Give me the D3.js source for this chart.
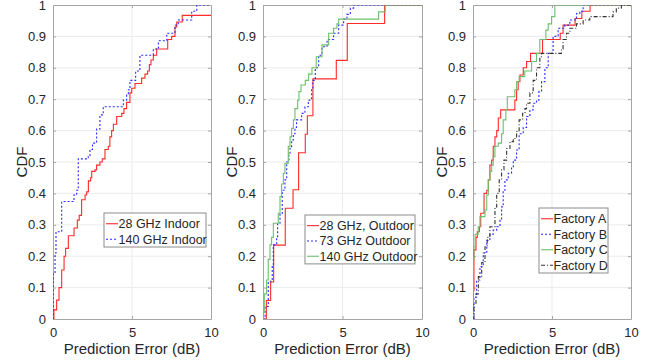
<!DOCTYPE html>
<html>
<head>
<meta charset="utf-8">
<script src="https://cdn.jsdelivr.net/npm/d3@7"></script>
<style>
  body { margin: 0; background: #fff; }
  svg text { font-family: "Liberation Sans", Arial, sans-serif; fill: #262626; }
</style>
</head>
<body>
<div id="chart"></div>
<script>
// ---- data ----
const xTicks = [0, 5, 10];
const yTicks = [0, 0.1, 0.2, 0.3, 0.4, 0.5, 0.6, 0.7, 0.8, 0.9, 1];

// panel 1
const indoor28Err = [0, 0.06, 0.23, 0.38, 0.55, 0.70, 0.80, 0.97, 1.33, 1.54, 1.66, 1.81, 2.03, 2.13, 2.24, 2.38, 2.45, 2.66, 2.76, 2.97, 3.12, 3.29, 3.5, 3.6, 3.71, 3.82, 4.03, 4.35, 4.49, 4.66, 4.87, 4.98, 5.19, 5.61, 5.82, 5.99, 6.1, 6.2, 6.35, 6.56, 7.26, 7.51, 7.72, 7.83, 8.18];
const indoor28Cdf = [0, 0.029, 0.06, 0.10, 0.156, 0.20, 0.225, 0.265, 0.29, 0.315, 0.33, 0.38, 0.395, 0.405, 0.44, 0.45, 0.47, 0.475, 0.49, 0.50, 0.51, 0.54, 0.55, 0.58, 0.60, 0.62, 0.645, 0.655, 0.67, 0.69, 0.72, 0.735, 0.75, 0.767, 0.78, 0.79, 0.81, 0.825, 0.84, 0.86, 0.89, 0.90, 0.93, 0.946, 0.967];
const indoor140Err = [0, 0.02, 0.13, 0.19, 0.55, 1.33, 1.5, 1.6, 2.23, 2.34, 2.5, 2.76, 2.97, 3.18, 4.45, 4.66, 4.77, 4.87, 5.23, 5.5, 6.35, 6.67, 7.2, 7.72, 7.93, 8.78, 9.1];
const indoor140Cdf = [0, 0.146, 0.21, 0.278, 0.374, 0.395, 0.41, 0.51, 0.52, 0.54, 0.56, 0.605, 0.65, 0.676, 0.697, 0.713, 0.73, 0.76, 0.79, 0.84, 0.86, 0.886, 0.91, 0.936, 0.952, 0.98, 1];

// panel 2
const outdoor28Err = [0, 0.21, 0.48, 0.67, 1.40, 1.89, 2.24, 2.66, 2.79, 3.14, 4.61, 5.3, 7.65];
const outdoor28Cdf = [0, 0.0588, 0.1176, 0.2353, 0.3529, 0.4118, 0.5294, 0.5882, 0.6471, 0.7647, 0.8235, 0.9412, 1];
const outdoor73Err = [0.02, 0.13, 0.33, 0.58, 0.65, 0.86, 0.92, 1.07, 1.21, 1.38, 1.49, 1.63, 1.70, 1.80, 1.91, 2.01, 2.11, 2.43, 2.64, 2.85, 3.06, 3.14, 3.29, 3.5, 3.71, 4.03, 4.44, 4.76, 5.07, 5.28, 5.49, 5.7];
const outdoor73Cdf = [0, 0.04, 0.12, 0.167, 0.236, 0.262, 0.305, 0.336, 0.41, 0.443, 0.50, 0.522, 0.549, 0.57, 0.59, 0.61, 0.634, 0.655, 0.676, 0.697, 0.73, 0.76, 0.80, 0.84, 0.867, 0.89, 0.91, 0.936, 0.955, 0.97, 0.99, 1];
const outdoor140Err = [0, 0.02, 0.08, 0.23, 0.33, 0.44, 0.54, 0.65, 0.96, 1.07, 1.17, 1.28, 1.38, 1.59, 1.70, 1.80, 1.91, 2.01, 2.18, 2.26, 2.39, 2.66, 2.87, 3.08, 3.35, 3.71, 4.13, 4.44, 4.65, 4.76, 7.27, 7.69];
const outdoor140Cdf = [0, 0.02, 0.08, 0.124, 0.19, 0.236, 0.26, 0.305, 0.337, 0.39, 0.43, 0.464, 0.496, 0.55, 0.58, 0.607, 0.634, 0.67, 0.697, 0.724, 0.745, 0.76, 0.78, 0.80, 0.835, 0.873, 0.91, 0.926, 0.94, 0.955, 0.978, 1];

// panel 3
const factoryAErr = [0, 0.02, 0.06, 0.19, 0.27, 0.4, 0.49, 0.70, 0.87, 0.97, 1.07, 1.18, 1.28, 1.39, 1.50, 1.60, 1.75, 2.65, 2.76, 2.86, 2.97, 3.18, 3.39, 3.64, 4.40, 5.52, 5.7, 6.46, 6.89, 7.41];
const factoryACdf = [0, 0.09, 0.22, 0.26, 0.278, 0.294, 0.337, 0.40, 0.41, 0.443, 0.49, 0.506, 0.55, 0.58, 0.60, 0.64, 0.666, 0.697, 0.73, 0.756, 0.777, 0.80, 0.82, 0.846, 0.89, 0.91, 0.936, 0.957, 0.98, 1];
const factoryBErr = [0, 0.06, 0.23, 0.44, 0.65, 0.87, 1.07, 1.28, 1.5, 1.71, 1.81, 1.91, 2.02, 2.23, 2.44, 2.55, 2.76, 2.92, 3.18, 3.39, 3.6, 3.81, 4.02, 4.17, 4.34, 4.55, 4.76, 5.07, 5.39, 5.81, 6.13, 6.55, 6.76, 6.97];
const factoryBCdf = [0, 0.07, 0.124, 0.167, 0.21, 0.25, 0.27, 0.283, 0.294, 0.315, 0.357, 0.41, 0.443, 0.464, 0.485, 0.506, 0.538, 0.59, 0.61, 0.645, 0.666, 0.687, 0.697, 0.724, 0.756, 0.80, 0.846, 0.90, 0.926, 0.936, 0.952, 0.973, 0.98, 1];
const factoryCErr = [0, 0.02, 0.06, 0.13, 0.33, 0.44, 0.76, 0.87, 0.97, 1.07, 1.18, 1.28, 1.39, 1.6, 1.81, 1.91, 2.08, 2.17, 2.65, 2.76, 2.92, 3.28, 3.71, 4.02, 4.23, 4.61, 4.76, 4.97, 5.18];
const factoryCCdf = [0, 0.19, 0.23, 0.27, 0.294, 0.326, 0.347, 0.395, 0.443, 0.47, 0.49, 0.517, 0.55, 0.56, 0.59, 0.634, 0.666, 0.708, 0.73, 0.756, 0.772, 0.79, 0.82, 0.846, 0.89, 0.92, 0.94, 0.963, 1];
const factoryDErr = [0, 0.06, 0.19, 0.34, 0.55, 0.76, 0.9, 1.07, 1.39, 1.5, 1.66, 1.81, 1.96, 2.13, 2.34, 2.55, 2.76, 2.92, 3.14, 3.29, 3.39, 3.6, 3.81, 4.02, 4.23, 4.34, 5.6, 5.7, 5.92, 6.13, 6.55, 6.97, 7.39, 8.86, 9.07, 9.39];
const factoryDCdf = [0, 0.05, 0.08, 0.135, 0.18, 0.23, 0.26, 0.294, 0.357, 0.40, 0.443, 0.475, 0.506, 0.543, 0.565, 0.575, 0.597, 0.634, 0.655, 0.67, 0.687, 0.72, 0.76, 0.80, 0.835, 0.846, 0.86, 0.89, 0.91, 0.926, 0.94, 0.952, 0.963, 0.978, 0.99, 1];

const panels = [
  { left: 53, right: 211, legend: { x: 104, y: 213, w: 102, rowH: 15.5 },
    series: [
      { name: "28 GHz Indoor", err: indoor28Err, cdf: indoor28Cdf, color: "#ff2a2a", dash: null },
      { name: "140 GHz Indoor", err: indoor140Err, cdf: indoor140Cdf, color: "#2a2aff", dash: "2,2" }
    ] },
  { left: 263, right: 422, legend: { x: 305, y: 215, w: 110, rowH: 15.3 },
    series: [
      { name: "28 GHz, Outdoor", err: outdoor28Err, cdf: outdoor28Cdf, color: "#ff2a2a", dash: null },
      { name: "73 GHz Outdoor", err: outdoor73Err, cdf: outdoor73Cdf, color: "#2a2aff", dash: "2,2" },
      { name: "140 GHz Outdoor", err: outdoor140Err, cdf: outdoor140Cdf, color: "#6cc06c", dash: null }
    ] },
  { left: 473, right: 631, legend: { x: 539, y: 208, w: 69, rowH: 15.5 },
    series: [
      { name: "Factory A", err: factoryAErr, cdf: factoryACdf, color: "#ff2a2a", dash: null },
      { name: "Factory B", err: factoryBErr, cdf: factoryBCdf, color: "#2a2aff", dash: "2,2" },
      { name: "Factory C", err: factoryCErr, cdf: factoryCCdf, color: "#6cc06c", dash: null },
      { name: "Factory D", err: factoryDErr, cdf: factoryDCdf, color: "#333333", dash: "4,2,1,2" }
    ] }
];

const W = 663, H = 364, plotTop = 5, plotBottom = 319;
const svg = d3.select("#chart").append("svg")
  .attr("width", W).attr("height", H);

const y = d3.scaleLinear().domain([0, 1]).range([plotBottom, plotTop]);

panels.forEach(function(p, pi) {
  const x = d3.scaleLinear().domain([0, 10]).range([p.left, p.right]);
  const g = svg.append("g");

  svg.append("defs").append("clipPath")
    .attr("id", "clip" + pi)
    .append("rect")
    .attr("x", p.left).attr("y", plotTop)
    .attr("width", p.right - p.left).attr("height", plotBottom - plotTop);

  // grid
  g.selectAll(".gy").data(yTicks.slice(1, -1)).enter().append("line")
    .attr("x1", p.left).attr("x2", p.right)
    .attr("y1", d => y(d)).attr("y2", d => y(d))
    .attr("stroke", "#ebebeb");
  g.selectAll(".gx").data(xTicks.slice(1, -1)).enter().append("line")
    .attr("y1", plotTop).attr("y2", plotBottom)
    .attr("x1", d => x(d)).attr("x2", d => x(d))
    .attr("stroke", "#ebebeb");

  // axes, ticks pointing inwards
  const axL = g.append("g").attr("transform", "translate(" + p.left + ",0)")
    .call(d3.axisLeft(y).tickValues(yTicks).tickSizeInner(-3).tickSizeOuter(0).tickPadding(7)
      .tickFormat(d => d3.format("~g")(d)));
  const axB = g.append("g").attr("transform", "translate(0," + plotBottom + ")")
    .call(d3.axisBottom(x).tickValues(xTicks).tickSizeInner(-3).tickSizeOuter(0).tickPadding(9));
  const axR = g.append("g").attr("transform", "translate(" + p.right + ",0)")
    .call(d3.axisRight(y).tickValues(yTicks).tickSizeInner(-3).tickSizeOuter(0).tickFormat(""));
  const axT = g.append("g").attr("transform", "translate(0," + plotTop + ")")
    .call(d3.axisTop(x).tickValues(xTicks).tickSizeInner(-3).tickSizeOuter(0).tickFormat(""));
  [axL, axB, axR, axT].forEach(function(a) {
    a.select(".domain").attr("stroke", "#a6a6a6");
    a.selectAll(".tick line").attr("stroke", "#a6a6a6");
    a.selectAll(".tick text").attr("fill", "#262626").style("font-size", "13px")
      .style("font-family", '"Liberation Sans", Arial, sans-serif');
  });

  // labels
  g.append("text")
    .attr("x", (p.left + p.right) / 2).attr("y", 354)
    .attr("text-anchor", "middle").style("font-size", "15px")
    .text("Prediction Error (dB)");
  g.append("text")
    .attr("transform", "translate(" + (p.left - 26) + "," + ((plotTop + plotBottom) / 2) + ") rotate(-90)")
    .attr("text-anchor", "middle").style("font-size", "15px")
    .text("CDF");

  // cdf curves
  const line = d3.line().curve(d3.curveStepAfter)
    .x(d => x(d[0])).y(d => y(d[1]));
  const curves = g.append("g").attr("clip-path", "url(#clip" + pi + ")");
  p.series.forEach(function(s) {
    const pts = s.err.map((e, i) => [e, s.cdf[i]]);
    pts.push([10, s.cdf[s.cdf.length - 1]]);
    curves.append("path")
      .datum(pts)
      .attr("fill", "none")
      .attr("stroke", s.color)
      .attr("stroke-width", 1.1)
      .attr("stroke-dasharray", s.dash)
      .attr("d", line);
  });

  // legend
  const L = p.legend;
  const lg = g.append("g").attr("transform", "translate(" + L.x + "," + L.y + ")");
  lg.append("rect")
    .attr("width", L.w).attr("height", L.rowH * p.series.length + 3)
    .attr("fill", "#fff").attr("stroke", "#8c8c8c").attr("stroke-width", 1);
  p.series.forEach(function(s, i) {
    const cy = 2 + L.rowH * (i + 0.5) + 1;
    lg.append("line")
      .attr("x1", 2).attr("x2", 14)
      .attr("y1", cy).attr("y2", cy)
      .attr("stroke", s.color).attr("stroke-width", 1.1)
      .attr("stroke-dasharray", s.dash);
    lg.append("text")
      .attr("x", 14.5).attr("y", cy + 4.5)
      .style("font-size", "12.5px")
      .text(s.name);
  });
});
</script>
</body>
</html>
